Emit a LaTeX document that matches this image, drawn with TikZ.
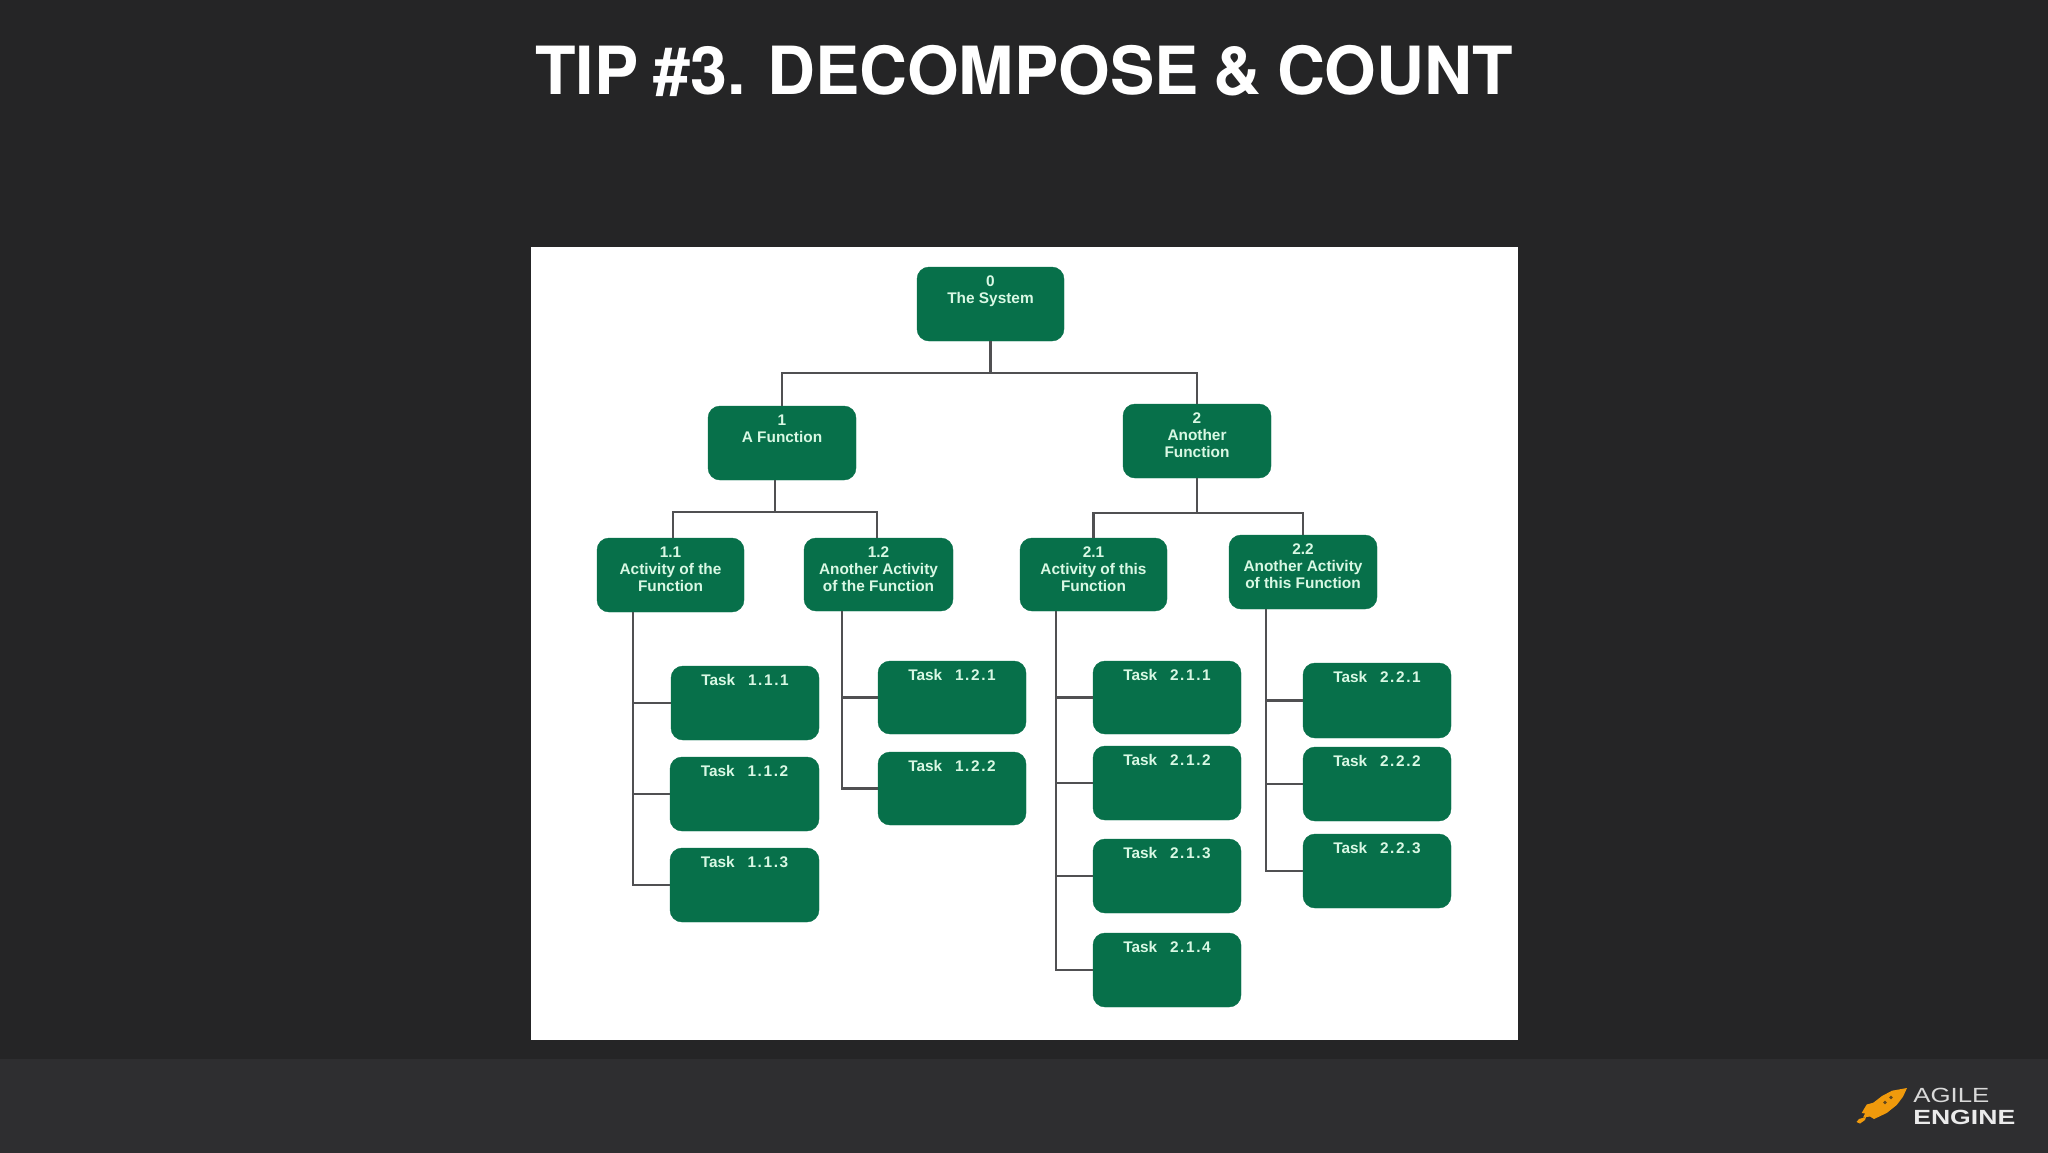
\documentclass[tikz,border=0pt]{standalone}
\usepackage{fontspec}
\setmainfont{Liberation Sans}
\newfontfamily\titlefont{TeX Gyre Heros}
\definecolor{slidebg}{HTML}{252526}
\definecolor{footbg}{HTML}{2E2E30}
\definecolor{boxgreen}{HTML}{07704A}
\definecolor{boxtxt}{HTML}{D9F8E4}
\definecolor{wire}{HTML}{505052}
\definecolor{rocket}{HTML}{F09A0C}
\newcommand{\bx}[6]{%
  \pgfmathsetlengthmacro{\bxw}{#4-#2}\pgfmathsetlengthmacro{\bxh}{#5-#3}%
  \node[greenbox,minimum width=\bxw,minimum height=\bxh] (#1) at ({(#2+#4)/2},{(#3+#5)/2})
    {\parbox[c][\bxh][t]{\bxw}{\centering\vspace{8.5pt}#6\par}};}
\newcommand{\tk}[3]{Task\ \ \ #1\kern1.6pt.\kern1.6pt#2\kern1.6pt.\kern1.6pt#3}
\tikzset{
  greenbox/.style={fill=boxgreen,draw=boxgreen,rounded corners=12pt,inner sep=0pt,outer sep=0pt,text=boxtxt,
    font=\fontsize{15.4}{17.3}\selectfont\bfseries},
  wireline/.style={draw=wire,line width=2.8pt},
  stemline/.style={draw=wire,line width=2.4pt},
  title/.style={text=white,font=\titlefont\fontsize{66.4}{70}\selectfont\bfseries,inner sep=0pt},
  logotext/.style={anchor=west,inner sep=0pt,xscale=1.26,font=\fontsize{20.5}{20}\selectfont},
}
\begin{document}
\begin{tikzpicture}[x=1pt,y=-1pt]
\useasboundingbox (0,0) rectangle (2048,1152);
\fill[slidebg] (-3,-3) rectangle (2051,1155);
\fill[footbg] (-3,1059) rectangle (2051,1155);
\fill[white] (530.5,247) rectangle (1518,1039.5);
\node[title] (ttl) at (1024,71) {\spaceskip=0.23em TIP \#3. DECOMPOSE \& COUNT};

\bx{n0}{917}{267}{1064}{341}{0\\The System}
\bx{n1}{708}{406}{856}{480}{1\\A Function}
\bx{n2}{1123}{404}{1271}{478}{2\\Another\\Function}
\bx{n11}{597}{538}{744}{612}{1.1\\Activity of the\\Function}
\bx{n12}{804}{538}{953}{611}{1.2\\Another Activity\\of the Function}
\bx{n21}{1020}{538}{1167}{611}{2.1\\Activity of this\\Function}
\bx{n22}{1229}{535}{1377}{609}{2.2\\Another Activity\\of this Function}
\bx{t111}{671}{666}{819}{740}{\tk111}
\bx{t112}{670}{757}{819}{831}{\tk112}
\bx{t113}{670}{848}{819}{922}{\tk113}
\bx{t121}{878}{661}{1026}{734}{\tk121}
\bx{t122}{878}{752}{1026}{825}{\tk122}
\bx{t211}{1093}{661}{1241}{734}{\tk211}
\bx{t212}{1093}{746}{1241}{820}{\tk212}
\bx{t213}{1093}{839}{1241}{913}{\tk213}
\bx{t214}{1093}{933}{1241}{1007}{\tk214}
\bx{t221}{1303}{663}{1451}{738}{\tk221}
\bx{t222}{1303}{747}{1451}{821}{\tk222}
\bx{t223}{1303}{834}{1451}{908}{\tk223}

% buses
\coordinate (b0) at (990.5,373);
\coordinate (b1) at (775,512);
\coordinate (b2) at (1197,513);
\draw[wireline] (n0.south) -- (n0.south |- b0);
\draw[wireline] (n1.north) |- (n2.north |- b0) -- (n2.north);
\draw[wireline] (b1 |- n1.south) -- (b1);
\draw[wireline] ([xshift=2.5pt]n11.north) |- ([xshift=-1.5pt]n12.north |- b1) -- ([xshift=-1.5pt]n12.north);
\draw[wireline] (n2.south) -- (n2.south |- b2);
\draw[wireline] (n21.north) |- (n22.north |- b2) -- (n22.north);
% stems
\coordinate (s11) at ([xshift=-37.5pt]n11.south);
\coordinate (s12) at ([xshift=-36.5pt]n12.south);
\coordinate (s21) at ([xshift=-37.5pt]n21.south);
\coordinate (s22) at ([xshift=-37pt]n22.south);
\draw[stemline] (s11) |- (t111.west);
\draw[stemline] (s11) |- (t112.west);
\draw[stemline] (s11) |- (t113.west);
\draw[stemline] (s12) |- (t121.west);
\draw[stemline] (s12) |- (t122.west);
\draw[stemline] (s21) |- (t211.west);
\draw[stemline] (s21) |- (t212.west);
\draw[stemline] (s21) |- (t213.west);
\draw[stemline] (s21) |- (t214.west);
\draw[stemline] (s22) |- (t221.west);
\draw[stemline] (s22) |- (t222.west);
\draw[stemline] (s22) |- (t223.west);

% logo
\fill[rocket] (1907,1088) -- (1892,1090.7) -- (1882,1096) -- (1873.3,1102.7) -- (1866.7,1104.5)
  -- (1864,1109) -- (1861.7,1113) -- (1865,1113.5) -- (1863,1117.5) -- (1870,1116.5) -- (1874,1119)
  -- (1886.7,1113) -- (1896.7,1105) -- (1903,1096.7) -- cycle;
\fill[rocket] (1856.5,1122) -- (1859,1119) -- (1866,1117) -- (1865,1120) -- (1860,1123.5) -- cycle;
\fill[slidebg!70!rocket] (1885,1102.5) circle (1.8pt) (1891,1097.5) circle (1.8pt);
\node[logotext,text=white!85!black] (lg1) at (1913,1095.5) {AGILE};
\node[logotext,text=white!92!black,font=\fontsize{20.5}{20}\selectfont\bfseries,xscale=1.03] (lg2) at (1913,1117) {ENGINE};
\end{tikzpicture}
\end{document}
